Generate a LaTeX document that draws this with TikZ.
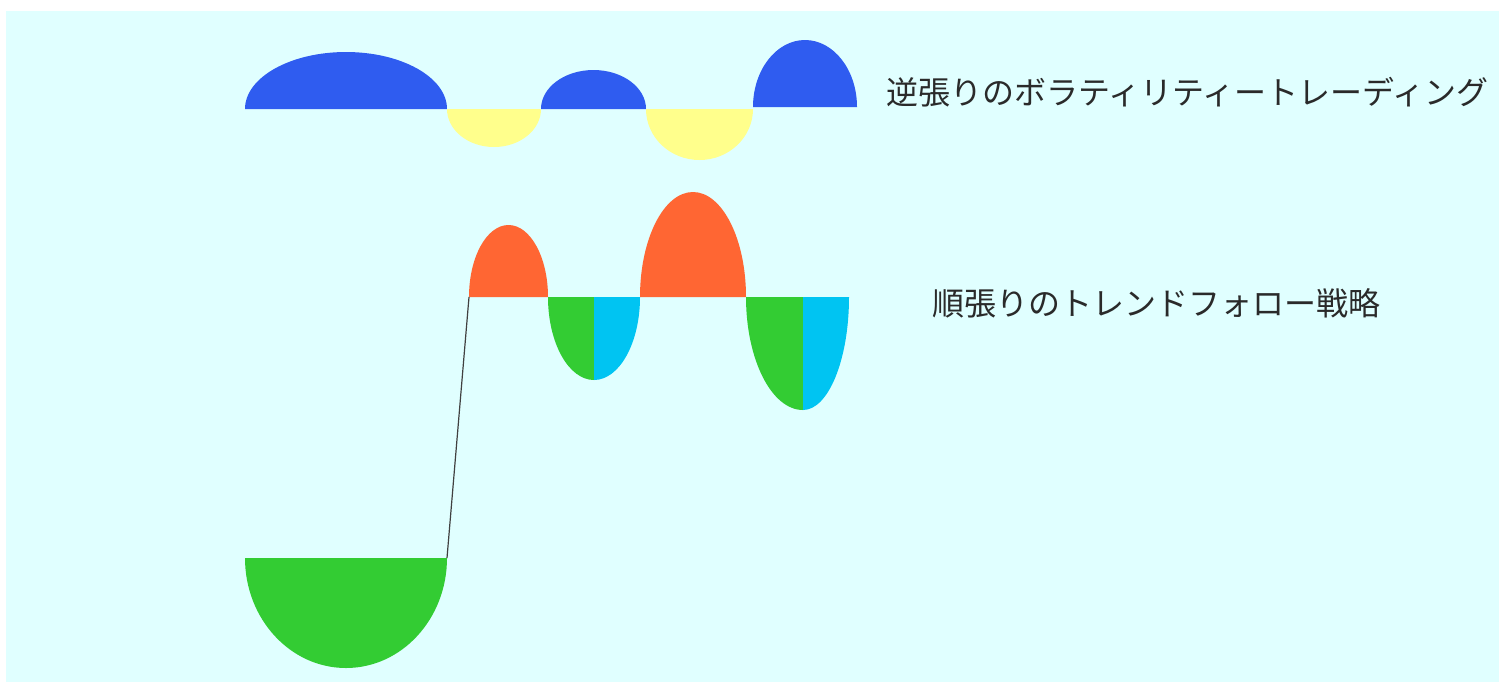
\documentclass[tikz,border=0pt]{standalone}
\usepackage{fontspec}
\newfontfamily\jpfont{Noto Sans CJK JP}
\usepackage{xcolor}
\usepackage{tikz}
\definecolor{bgcyan}{HTML}{E0FFFF}
\definecolor{domeblue}{HTML}{2F5CF0}
\definecolor{dipyellow}{HTML}{FFFF8C}
\definecolor{peakorange}{HTML}{FF6633}
\definecolor{troughgreen}{HTML}{33CC33}
\definecolor{troughcyan}{HTML}{00C4F2}
\definecolor{labelgray}{HTML}{2A2A2A}
\tikzset{
  lbl/.style={anchor=west, inner sep=0pt, text=labelgray, font=\jpfont\fontsize{16pt}{19pt}\selectfont},
  link/.style={draw=black!75, line width=0.6pt}
}
\begin{document}
\begin{tikzpicture}[x=0.5pt, y=-0.5pt]
        \useasboundingbox (0,0) rectangle (1499,682);
        \fill[white] (0,0) rectangle (1499,682);
        \fill[bgcyan] (6,11) rectangle (1499,682);

        % contrarian volatility trading
        \fill[domeblue] (245,109) arc[start angle=180, end angle=360, x radius=101, y radius=57] -- cycle;
        \fill[dipyellow] (447,109) arc[start angle=180, end angle=0, x radius=47, y radius=38] -- cycle;
        \fill[domeblue] (541,109) arc[start angle=180, end angle=360, x radius=52.5, y radius=39] -- cycle;
        \fill[dipyellow] (646,109) arc[start angle=180, end angle=0, x radius=53.5, y radius=51] -- cycle;
        \fill[domeblue] (753,107) arc[start angle=180, end angle=360, x radius=52, y radius=67] -- cycle;
        \node[lbl] (contra) at (886,92) {逆張りのボラティリティートレーディング};

        % trend following
        \fill[troughgreen] (245,558) arc[start angle=180, end angle=0, x radius=101, y radius=110] -- cycle;
        \coordinate (bowlR) at (447,558);
        \fill[peakorange] (469,297) arc[start angle=180, end angle=360, x radius=39.5, y radius=72] -- cycle;
        \coordinate (peakL) at (469,297);
        \fill[troughgreen] (548,297) arc[start angle=180, end angle=90, x radius=46, y radius=83] -- (594,297) -- cycle;
        \fill[troughcyan] (594,297) -- (594,380) arc[start angle=90, end angle=0, x radius=46, y radius=83] -- cycle;
        \fill[peakorange] (640,297) arc[start angle=180, end angle=360, x radius=53, y radius=105] -- cycle;
        \fill[troughgreen] (746,297) arc[start angle=180, end angle=90, x radius=57, y radius=113] -- (803,297) -- cycle;
        \fill[troughcyan] (803,297) -- (803,410) arc[start angle=90, end angle=0, x radius=46, y radius=113] -- cycle;
        \draw[link] (bowlR) -- (peakL);
        \node[lbl] (trend) at (932,303) {順張りのトレンドフォロー戦略};
\end{tikzpicture}
\end{document}
